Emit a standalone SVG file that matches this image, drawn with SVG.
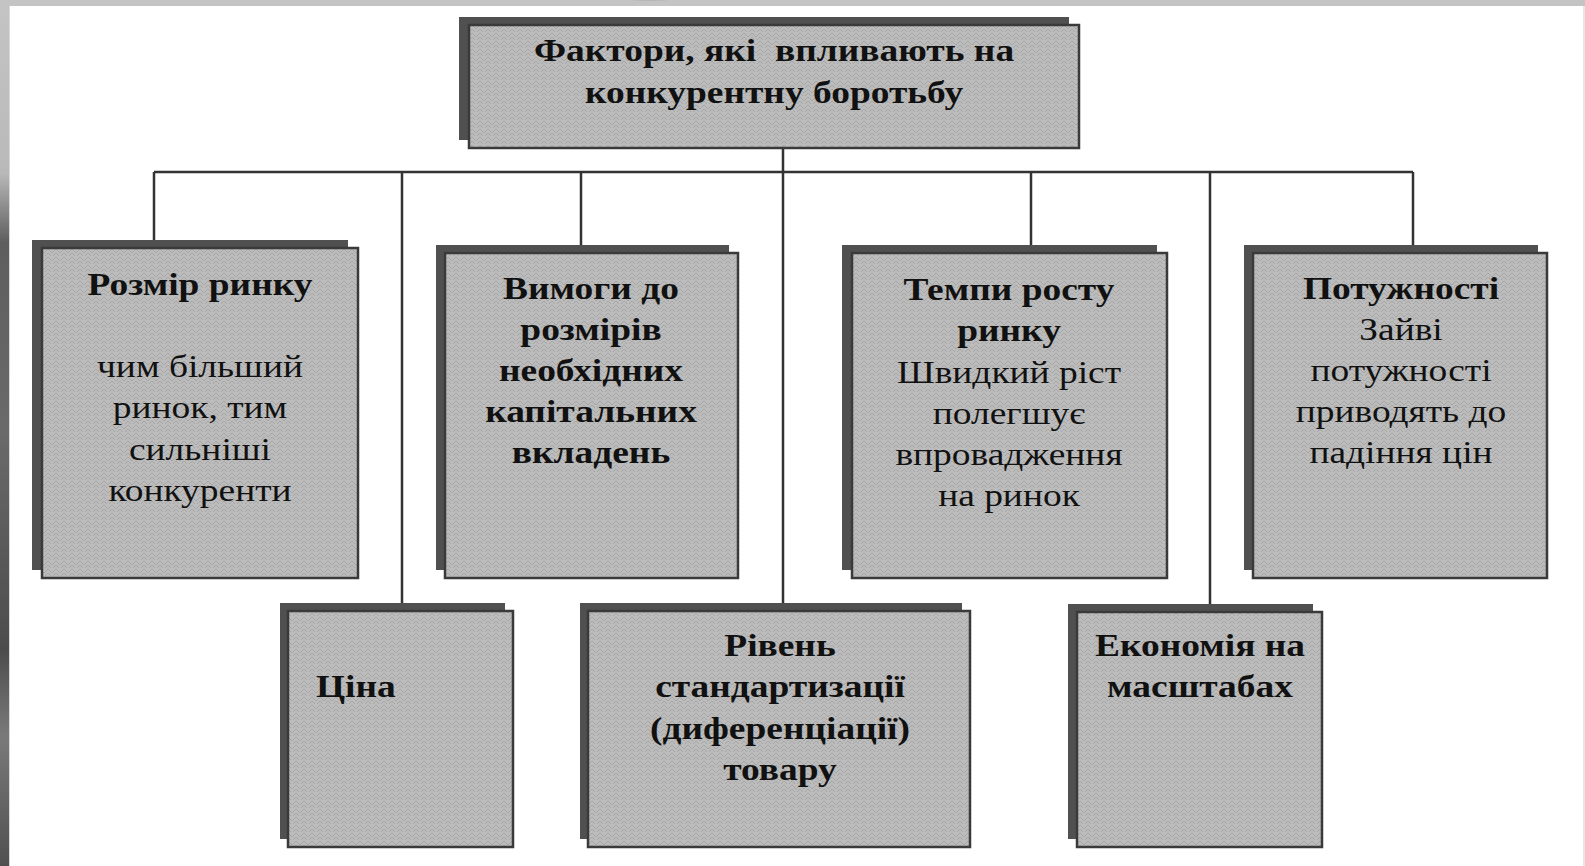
<svg xmlns="http://www.w3.org/2000/svg" width="1585" height="866" viewBox="0 0 1585 866">
  <defs>
    <!-- herringbone texture used for the box fill -->
    <pattern id="zig" width="8" height="8" patternUnits="userSpaceOnUse">
      <rect width="8" height="8" fill="#bcbcbc"/>
      <path d="M0,1 L4,5 L8,1" fill="none" stroke="#a6a6a6" stroke-width="1"/>
      <path d="M0,5 L4,9 L8,5" fill="none" stroke="#a6a6a6" stroke-width="1"/>
    </pattern>
    <linearGradient id="leftStrip" x1="0" y1="0" x2="0" y2="1">
      <stop offset="0" stop-color="#c4c4c4"/>
      <stop offset="0.2" stop-color="#b9b9b9"/>
      <stop offset="0.28" stop-color="#5e5e5e"/>
      <stop offset="0.5" stop-color="#6a6a6a"/>
      <stop offset="0.75" stop-color="#4c4c4c"/>
      <stop offset="0.85" stop-color="#7a7a7a"/>
      <stop offset="1" stop-color="#505050"/>
    </linearGradient>
    <radialGradient id="smudge" cx="0.5" cy="0" r="0.6">
      <stop offset="0" stop-color="#3a3a3a"/>
      <stop offset="1" stop-color="#c4c4c4"/>
    </radialGradient>
  </defs>
  <style>
    .shadow { fill: #505050; }
    .box { fill: url(#zig); stroke: #3a3a3a; stroke-width: 2.5; }
    .t { font-family: "Liberation Serif", "Times New Roman", serif; font-size: 32px; fill: #111; text-anchor: middle; white-space: pre; }
    .b { font-weight: bold; }
    .conn { stroke: #333; stroke-width: 2.5; fill: none; }
  </style>

  <!-- page and frame -->
  <rect width="1585" height="866" fill="#ffffff"/>
  <rect x="0" y="0" width="1585" height="6" fill="#c4c4c4"/>
  <ellipse cx="650" cy="0" rx="40" ry="6" fill="url(#smudge)"/>
  <rect x="0" y="0" width="9" height="866" fill="url(#leftStrip)"/>
  <rect x="9" y="6" width="1" height="860" fill="#d8d8d8"/>
  <rect x="1583" y="6" width="2" height="860" fill="#e6e6e6"/>

  <!-- connectors -->
  <g id="connectors" class="conn">
    <line x1="783" y1="148" x2="783" y2="611"/>
    <line x1="154" y1="172" x2="1413" y2="172"/>
    <line x1="154" y1="172" x2="154" y2="240"/>
    <line x1="402" y1="172" x2="402" y2="611"/>
    <line x1="581" y1="172" x2="581" y2="245"/>
    <line x1="1031" y1="172" x2="1031" y2="245"/>
    <line x1="1210" y1="172" x2="1210" y2="612"/>
    <line x1="1413" y1="172" x2="1413" y2="245"/>
  </g>

  <!-- root node -->
  <g id="n-root">
    <rect class="shadow" x="459" y="17" width="610" height="123"/>
    <rect class="box" x="469" y="25" width="610" height="123"/>
    <g transform="translate(774,0) scale(1.17,1)">
      <text class="t b" x="0" y="61" xml:space="preserve">Фактори, які  впливають на</text>
      <text class="t b" x="0" y="103">конкурентну боротьбу</text>
    </g>
  </g>

  <!-- upper row -->
  <g id="n-market-size">
    <rect class="shadow" x="32" y="240" width="316" height="330"/>
    <rect class="box" x="42" y="248" width="316" height="330"/>
    <g transform="translate(200,0) scale(1.17,1)">
      <text class="t b" x="0" y="295">Розмір ринку</text>
      <text class="t" x="0" y="377">чим більший</text>
      <text class="t" x="0" y="418">ринок, тим</text>
      <text class="t" x="0" y="460">сильніші</text>
      <text class="t" x="0" y="501">конкуренти</text>
    </g>
  </g>

  <g id="n-capital">
    <rect class="shadow" x="436" y="245" width="293" height="325"/>
    <rect class="box" x="445" y="253" width="293" height="325"/>
    <g transform="translate(591,0) scale(1.17,1)">
      <text class="t b" x="0" y="299">Вимоги до</text>
      <text class="t b" x="0" y="340">розмірів</text>
      <text class="t b" x="0" y="381">необхідних</text>
      <text class="t b" x="0" y="422">капітальних</text>
      <text class="t b" x="0" y="463">вкладень</text>
    </g>
  </g>

  <g id="n-growth">
    <rect class="shadow" x="842" y="245" width="315" height="325"/>
    <rect class="box" x="852" y="253" width="315" height="325"/>
    <g transform="translate(1009,0) scale(1.17,1)">
      <text class="t b" x="0" y="300">Темпи росту</text>
      <text class="t b" x="0" y="341">ринку</text>
      <text class="t" x="0" y="383">Швидкий ріст</text>
      <text class="t" x="0" y="424">полегшує</text>
      <text class="t" x="0" y="465">впровадження</text>
      <text class="t" x="0" y="506">на ринок</text>
    </g>
  </g>

  <g id="n-capacity">
    <rect class="shadow" x="1244" y="245" width="294" height="325"/>
    <rect class="box" x="1253" y="253" width="294" height="325"/>
    <g transform="translate(1401,0) scale(1.17,1)">
      <text class="t b" x="0" y="299">Потужності</text>
      <text class="t" x="0" y="340">Зайві</text>
      <text class="t" x="0" y="381">потужності</text>
      <text class="t" x="0" y="422">приводять до</text>
      <text class="t" x="0" y="463">падіння цін</text>
    </g>
  </g>

  <!-- lower row -->
  <g id="n-price">
    <rect class="shadow" x="280" y="603" width="225" height="236"/>
    <rect class="box" x="288" y="611" width="225" height="236"/>
    <g transform="translate(316,0) scale(1.17,1)">
      <text class="t b" x="0" y="697" style="text-anchor:start">Ціна</text>
    </g>
  </g>

  <g id="n-standard">
    <rect class="shadow" x="580" y="603" width="382" height="236"/>
    <rect class="box" x="588" y="611" width="382" height="236"/>
    <g transform="translate(780,0) scale(1.17,1)">
      <text class="t b" x="0" y="656">Рівень</text>
      <text class="t b" x="0" y="697">стандартизації</text>
      <text class="t b" x="0" y="739">(диференціації)</text>
      <text class="t b" x="0" y="780">товару</text>
    </g>
  </g>

  <g id="n-scale">
    <rect class="shadow" x="1068" y="604" width="245" height="235"/>
    <rect class="box" x="1077" y="612" width="245" height="235"/>
    <g transform="translate(1200,0) scale(1.17,1)">
      <text class="t b" x="0" y="656">Економія на</text>
      <text class="t b" x="0" y="697">масштабах</text>
    </g>
  </g>
</svg>
